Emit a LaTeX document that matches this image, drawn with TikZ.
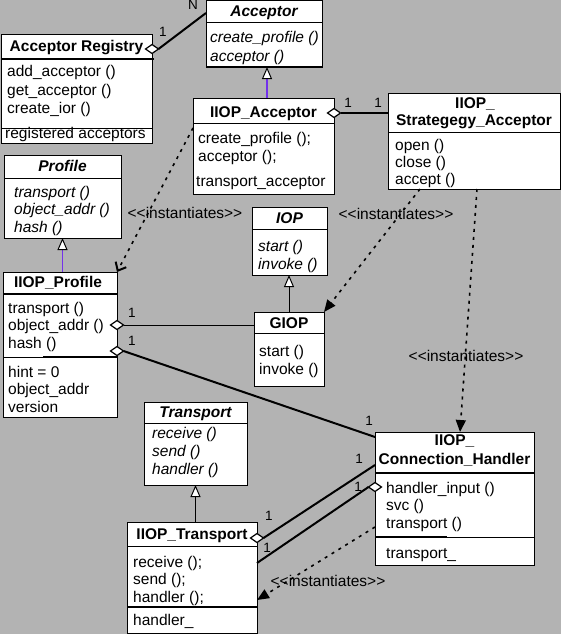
\documentclass[tikz,border=0pt]{standalone}
\usepackage{fontspec}
\setmainfont{Liberation Sans}
\usetikzlibrary{arrows.meta,shapes.geometric}
\definecolor{bg}{RGB}{179,179,179}
\definecolor{inh}{RGB}{115,50,235}
\newcommand\umlbox[5]{\node[box, minimum width={#4-#2}, minimum height={#5-#3}] (#1) at (#2,#3) {};}
\newcommand\mlines[6]{\foreach \mytxt [count=\k from 0] in {#6} {\node[txt,#1] (#2\k) at (#3,{#4+\k*#5}) {\mytxt};}}
\newcommand\instlabel{\textless{}\textless{}instantiates\textgreater{}\textgreater{}}
\begin{document}
\begin{tikzpicture}[x=1pt,y=-1pt,
  box/.style={draw, fill=white, line width=1pt, inner sep=0pt, outer sep=0pt, anchor=north west, rectangle},
  txt/.style={font=\fontsize{15.5}{18}\selectfont, anchor=base west, inner sep=0pt},
  ital/.style={font=\fontsize{15.5}{18}\selectfont\itshape},
  ttl/.style={font=\fontsize{15.5}{18}\selectfont\bfseries, anchor=base, inner sep=0pt},
  ttli/.style={ttl, font=\fontsize{15.5}{18}\selectfont\bfseries\itshape},
  lbl/.style={font=\fontsize{13.5}{16}\selectfont, anchor=base, inner sep=0pt},
  inst/.style={font=\fontsize{15.5}{18}\selectfont, anchor=base, inner sep=0pt},
  sep/.style={line width=1pt},
  sepb/.style={line width=2pt},
  assoc/.style={line width=2pt},
  thinl/.style={line width=1pt},
  dep/.style={line width=1.6pt, dash pattern=on 3pt off 5pt},
  diam/.style={diamond, draw, fill=white, line width=1.2pt, minimum width=13pt, minimum height=9pt, inner sep=0pt, outer sep=0pt},
  inhp/.style={line width=1.6pt, draw=inh, -{Triangle[length=12pt,width=10pt,line width=1pt,color=black,fill=white]}},
  inhb/.style={line width=1pt, -{Triangle[length=12pt,width=10pt,line width=1pt,color=black,fill=white]}},
  filltip/.style={-{Triangle[length=12pt,width=10pt]}},
  opentip/.style={-{Straight Barb[length=7pt,width=12pt,line width=2pt]}}
]
\useasboundingbox (0,0) rectangle (561,634);
\fill[bg] (0,0) rectangle (561,634);

% boxes
\umlbox{reg}{1}{35}{152}{143}
\umlbox{acc}{206}{1}{322}{67}
\umlbox{iacc}{193}{98}{334}{194}
\umlbox{strat}{388}{93}{560}{189}
\umlbox{prof}{4}{155}{121}{238}
\umlbox{iprof}{3}{272}{117}{417}
\umlbox{iop}{252}{207}{327}{275}
\umlbox{giop}{254}{312}{324}{386}
\umlbox{trans}{144}{402}{247}{485}
\umlbox{itrans}{127}{522}{257}{633}
\umlbox{conn}{375}{432}{534}{565}

% separators
\draw[sepb] (reg.west |- 0,59) -- (154,59);
\draw[sep] (reg.west |- 0,128) -- (reg.east |- 0,128);
\draw[sep] (acc.west |- 0,23) -- (acc.east |- 0,23);
\draw[sep] (iacc.west |- 0,123) -- (iacc.east |- 0,123);
\draw[sep] (strat.west |- 0,132) -- (strat.east |- 0,132);
\draw[sep] (prof.west |- 0,178) -- (prof.east |- 0,178);
\draw[line width=1.5pt] (iprof.west |- 0,294) -- (iprof.east |- 0,294);
\draw[sep] (iprof.west |- 0,357) -- (iprof.east |- 0,357);
\draw[sepb] (43,357) -- (iprof.east |- 0,357);
\draw[sep] (iop.west |- 0,229) -- (iop.east |- 0,229);
\draw[sep] (giop.west |- 0,333) -- (giop.east |- 0,333);
\draw[sep] (trans.west |- 0,423) -- (trans.east |- 0,423);
\draw[sep] (itrans.west |- 0,546) -- (itrans.east |- 0,546);
\draw[sepb] (itrans.west |- 0,607) -- (itrans.east |- 0,607);
\draw[sepb] (conn.west |- 0,473) -- (conn.east |- 0,473);
\draw[sep] (conn.west |- 0,537) -- (conn.east |- 0,537);
\draw[sepb] (conn.west |- 0,537) -- (447,537);

% texts
\node[ttl] (regt) at (76.5,52) {Acceptor Registry};
\mlines{}{regm}{7}{77}{18}{add\_acceptor (), get\_acceptor (), create\_ior ()}
\node[txt] (rega) at (5,138) {registered acceptors};

\node[ttli] (acct) at (264,17) {Acceptor};
\mlines{ital}{accm}{210}{43}{18}{create\_profile (), acceptor ()}

\node[ttl] (iacct) at (263.5,117) {IIOP\_Acceptor};
\mlines{}{iaccm}{198}{143}{18}{create\_profile ();, acceptor ();}
\node[txt] (iacca) at (196,186) {transport\_acceptor};

\node[ttl] (stratt1) at (475,108) {IIOP\_};
\node[ttl] (stratt2) at (474,125) {Strategegy\_Acceptor};
\mlines{}{stratm}{395}{150}{17}{open (), close (), accept ()}

\node[ttli] (proft) at (62.5,171) {Profile};
\mlines{ital}{profm}{14}{197}{17.5}{transport (), object\_addr (), hash ()}

\node[ttl] (iproft) at (58,287) {IIOP\_Profile};
\mlines{}{iprofm}{8}{313}{17.5}{transport (), object\_addr (), hash ()}
\mlines{}{iprofa}{8}{377}{17.5}{hint = 0, object\_addr, version}

\node[ttli] (iopt) at (289.5,223) {IOP};
\mlines{ital}{iopm}{258}{251}{18}{start (), invoke ()}

\node[ttl] (giopt) at (289,328) {GIOP};
\mlines{}{giopm}{259}{356}{18}{start (), invoke ()}

\node[ttli] (transt) at (195.5,417) {Transport};
\mlines{ital}{transm}{152}{438}{18}{receive (), send (), handler ()}

\node[ttl] (itranst) at (192,539) {IIOP\_Transport};
\mlines{}{itransm}{133}{567}{17.5}{receive ();, send ();, handler ();}
\node[txt] (itransa) at (133,625) {handler\_};

\node[ttl] (connt1) at (454.5,445) {IIOP\_};
\node[ttl] (connt2) at (454.5,464) {Connection\_Handler};
\mlines{}{connm}{386}{493}{17.5}{handler\_input (), svc (), transport ()}
\node[txt] (conna) at (386,558) {transport\_};

% inheritance
\draw[inhp] (iacc.north -| 267,0) -- (acc.south -| 267,0);
\draw[inhp] (iprof.north -| prof.south) -- (prof.south);
\draw[inhb] (giop.north) -- (giop.north |- iop.south);
\draw[inhb] (itrans.north -| trans.south) -- (trans.south);

% diamonds
\node[diam] (d1) at (reg.east |- 0,49) {};
\node[diam] (d2) at (iacc.east |- 0,113) {};
\node[diam] (d3) at (iprof.east |- 0,325) {};
\node[diam] (d4) at (iprof.east |- 0,351) {};
\node[diam] (d5) at (itrans.east |- 0,538) {};
\node[diam] (d6) at (conn.west |- 0,487) {};

% associations
\draw[assoc] (d1.east) -- (acc.west |- 0,13);
\draw[assoc] (d2.east) -- (strat.west |- d2);
\draw[thinl] (d3.east) -- (giop.west |- d3);
\draw[assoc] (d4.east) -- (conn.west |- 0,437);
\draw[assoc] (d5.east) -- (conn.west |- 0,465);
\draw[assoc] (d6.west) -- (itrans.east |- 0,563);

% multiplicities
\node[lbl] (m1) at (163,37) {1};
\node[lbl] (m2) at (193,10) {N};
\node[lbl] (m3) at (348,107) {1};
\node[lbl] (m4) at (378,107) {1};
\node[lbl] (m5) at (132,317) {1};
\node[lbl] (m6) at (132,345) {1};
\node[lbl] (m7) at (369,425) {1};
\node[lbl] (m8) at (269,520) {1};
\node[lbl] (m9) at (359,463) {1};
\node[lbl] (m10) at (358,491) {1};
\node[lbl] (m11) at (267,552) {1};

% instantiation dependencies
\draw[dep, opentip] (iacc.west |- 0,128) -- (iprof.north east);
\draw[dep, filltip] (strat.south -| 420,0) -- (giop.north east);
\draw[dep, filltip] (strat.south -| 477,0) -- (conn.north -| 460,0);
\draw[dep, filltip] (conn.west |- 0,527) -- (itrans.east |- 0,600);
\node[inst] (i1) at (185,218) {\instlabel};
\node[inst] (i2) at (396,219) {\instlabel};
\node[inst] (i3) at (466,361) {\instlabel};
\node[inst] (i4) at (328,586) {\instlabel};
\end{tikzpicture}
\end{document}
